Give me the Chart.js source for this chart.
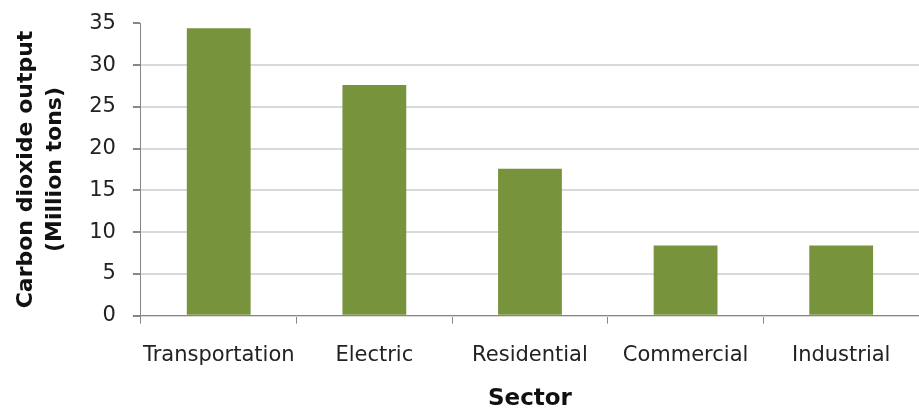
<!DOCTYPE html>
<html>
<head>
<meta charset="utf-8">
<script src="https://cdn.jsdelivr.net/npm/chart.js@4/dist/chart.umd.min.js"></script>
<style>
    html, body { margin: 0; padding: 0; background: #fff; }
    #wrap { width: 919px; height: 411px; position: relative; }
</style>
</head>
<body>
<div id="wrap"><canvas id="chart"></canvas></div>
<script>
// --- Data ---
const sectors = ['Transportation', 'Electric', 'Residential', 'Commercial', 'Industrial'];
const co2Output = [34.4, 27.6, 17.6, 8.4, 8.4];
const yTitle = ['Carbon dioxide output', '(Million tons)'];
const xTitle = 'Sector';

const FONT = "'DejaVu Sans', 'Liberation Sans', sans-serif";
const AXIS_GREY = '#868686';
const GRID_GREY = '#d9d9d9';

new Chart(document.getElementById('chart'), {
    type: 'bar',
    data: {
        labels: sectors,
        datasets: [{
            label: 'CO2',
            data: co2Output,
            backgroundColor: '#77933c',
            barPercentage: 0.41,
            categoryPercentage: 1.0
        }]
    },
    options: {
        responsive: true,
        maintainAspectRatio: false,
        animation: false,
        layout: { padding: { top: 0, left: 12, right: 0, bottom: 0 } },
        plugins: {
            legend: { display: false },
            tooltip: { enabled: false }
        },
        scales: {
            x: {
                grid: { drawOnChartArea: false, drawTicks: true, tickLength: 8, tickColor: AXIS_GREY },
                border: { color: AXIS_GREY, width: 1 },
                ticks: { color: '#222', font: { family: FONT, size: 21 }, padding: 19, maxRotation: 0, autoSkip: false },
                title: { display: true, text: xTitle, color: '#111', font: { family: FONT, size: 23, weight: 'bold', lineHeight: 1.05 }, padding: { top: 0, bottom: 0 } }
            },
            y: {
                min: 0,
                max: 35,
                // small lineHeight keeps the top label from pushing the plot down
                ticks: { stepSize: 5, color: '#222', font: { family: FONT, size: 21, lineHeight: 0.6 }, padding: 17 },
                grid: {
                    color: (ctx) => ctx.tick && ctx.tick.value === 35 ? 'rgba(0,0,0,0)' : GRID_GREY,
                    lineWidth: 2,
                    tickLength: 8,
                    tickColor: AXIS_GREY
                },
                border: { color: AXIS_GREY, width: 1 },
                title: { display: true, text: yTitle, color: '#111', font: { family: FONT, size: 22, weight: 'bold', lineHeight: 1.3 }, padding: { top: 0, bottom: 3 } }
            }
        }
    }
});
</script>
</body>
</html>
